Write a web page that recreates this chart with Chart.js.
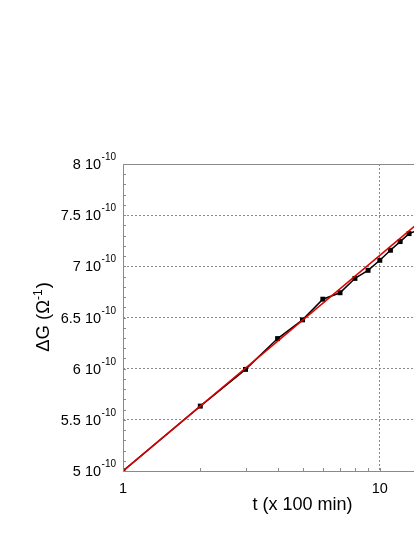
<!DOCTYPE html>
<html>
<head>
<meta charset="utf-8">
<script src="https://cdn.jsdelivr.net/npm/chart.js@4/dist/chart.umd.min.js"></script>
<style>
  html, body { margin: 0; padding: 0; background: #fff; overflow: hidden; }
  #wrap { position: relative; width: 491px; height: 535px; }
</style>
</head>
<body>
<div id="wrap"><canvas id="chart"></canvas></div>
<script>
// Measured data (conductance change, in units of 1e-10 S)
const timeX = [1, 2, 3, 4, 5, 6, 7, 8, 9, 10, 11, 12, 13, 14];
const deltaG = [5.00, 5.634, 5.993, 6.294, 6.477, 6.679, 6.742, 6.882, 6.961, 7.059, 7.157, 7.242, 7.320, 7.35];

// Fit line end points (straight on the log axis)
const fitX = [1, 14];
const fitY = [5.00, 7.415];

// Axis ranges / ticks
const yTicks = [5, 5.5, 6, 6.5, 7, 7.5, 8];
const yExponent = '-10';
const xMajorLabels = [1, 10];

const FONT = "'Liberation Sans', Arial, Helvetica, sans-serif";
const AXIS_GREY = '#8a8a8a';
const GRID_GREY = '#8a8a8a';

function isPow10(v) {
    const l = Math.log10(v);
    return Math.abs(l - Math.round(l)) < 1e-9;
}

// Frame, inward minor ticks, y labels with superscripts and the y title
const decorations = {
    id: 'decorations',
    afterDraw(chart) {
        const ctx = chart.ctx;
        const area = chart.chartArea;
        const xs = chart.scales.x;
        const ys = chart.scales.y;

        ctx.save();
        ctx.strokeStyle = AXIS_GREY;
        ctx.lineWidth = 1;
        ctx.strokeRect(area.left + 0.5, area.top + 0.5, area.right - area.left - 1, area.bottom - area.top);

        // y minor ticks every 0.1
        ctx.beginPath();
        for (let i = 1; i < 30; i++) {
            const v = 5 + i * 0.1;
            const y = Math.round(ys.getPixelForValue(v)) + 0.5;
            ctx.moveTo(area.left, y);
            ctx.lineTo(area.left + 3, y);
        }
        // x minor ticks on the log axis
        xs.ticks.forEach(t => {
            if (t.value <= xs.min || t.value >= xs.max) return;
            const x = Math.round(xs.getPixelForValue(t.value)) + 0.5;
            ctx.moveTo(x, area.bottom);
            ctx.lineTo(x, area.bottom - 3);
        });
        ctx.stroke();

        // y tick labels: "N 10^-10"
        ctx.fillStyle = '#000';
        ctx.textBaseline = 'alphabetic';
        const rightX = 116;
        yTicks.forEach(v => {
            const y = ys.getPixelForValue(v);
            ctx.font = '10px ' + FONT;
            ctx.textAlign = 'right';
            const supW = ctx.measureText(yExponent).width;
            ctx.fillText(yExponent, rightX, y - 4);
            ctx.font = '14.5px ' + FONT;
            ctx.fillText(v + ' 10', rightX - supW - 0.5, y + 5);
        });

        // y title "ΔG (Ω^-1)"
        const cy = (area.top + area.bottom) / 2;
        ctx.translate(49, cy);
        ctx.rotate(-Math.PI / 2);
        ctx.textAlign = 'left';
        const mainFont = '18.5px ' + FONT;
        const supFont = '12px ' + FONT;
        const parts = [
            { text: 'ΔG (Ω', font: mainFont, dy: 0 },
            { text: '-1', font: supFont, dy: -7 },
            { text: ')', font: mainFont, dy: 0 }
        ];
        let total = 0;
        parts.forEach(p => { ctx.font = p.font; p.w = ctx.measureText(p.text).width; total += p.w; });
        let x = -total / 2;
        parts.forEach(p => {
            ctx.font = p.font;
            ctx.fillText(p.text, x, p.dy);
            x += p.w + (p.text === '-1' ? 1 : 0);
        });
        ctx.restore();
    }
};

window.addEventListener('load', function() {
    const ctx = document.getElementById('chart').getContext('2d');
    new Chart(ctx, {
        type: 'line',
        data: {
            datasets: [{
                label: 'fit',
                data: fitX.map((x, i) => ({ x: x, y: fitY[i] })),
                borderColor: '#e00000',
                borderWidth: 1.5,
                pointRadius: 0,
                fill: false,
                tension: 0,
                clip: 0
            }, {
                label: 'ΔG',
                data: timeX.map((x, i) => ({ x: x, y: deltaG[i] })),
                borderColor: '#000',
                borderWidth: 1.5,
                pointStyle: 'rect',
                pointRadius: 3.5,
                pointBackgroundColor: '#000',
                pointBorderColor: '#000',
                pointBorderWidth: 0,
                fill: false,
                tension: 0,
                clip: 0
            }]
        },
        options: {
            responsive: true,
            maintainAspectRatio: false,
            animation: false,
            layout: { padding: { top: 164, left: 0, right: 1, bottom: 0 } },
            plugins: {
                legend: { display: false },
                tooltip: { enabled: false }
            },
            scales: {
                x: {
                    type: 'logarithmic',
                    min: 1,
                    max: 25,
                    border: { display: false, dash: [2, 2] },
                    grid: {
                        drawTicks: false,
                        color: c => (c.tick && isPow10(c.tick.value) ? GRID_GREY : 'rgba(0,0,0,0)'),
                        lineWidth: 1,
                        borderDash: [2, 2]
                    },
                    ticks: {
                        autoSkip: false,
                        maxRotation: 0,
                        padding: 9,
                        color: '#000',
                        font: { family: FONT, size: 14.5 },
                        callback: v => (xMajorLabels.includes(v) ? String(v) : '')
                    },
                    title: {
                        display: true,
                        text: 't (x 100 min)',
                        color: '#000',
                        font: { family: FONT, size: 18 },
                        padding: { top: 0, bottom: 19 }
                    },
                    afterFit: s => { s.height = 64; }
                },
                y: {
                    type: 'linear',
                    min: 5,
                    max: 8,
                    border: { display: false, dash: [2, 2] },
                    grid: {
                        drawTicks: false,
                        color: GRID_GREY,
                        lineWidth: 1,
                        borderDash: [2, 2]
                    },
                    ticks: { stepSize: 0.5, display: false },
                    afterFit: s => { s.width = 123; }
                }
            }
        },
        plugins: [decorations]
    });
});
</script>
</body>
</html>
